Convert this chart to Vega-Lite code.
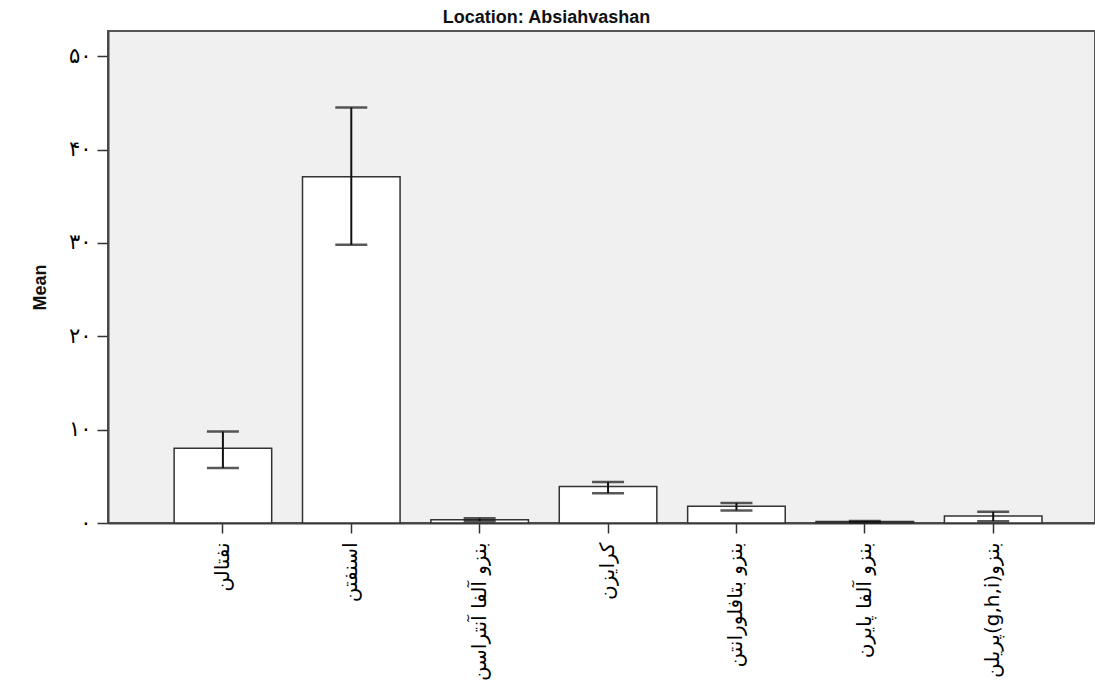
{
  "$schema": "https://vega.github.io/schema/vega-lite/v6.json",
  "autosize": {"type": "none"},
  "padding": {"left": 108, "top": 31, "right": 0, "bottom": 167},
  "width": 987,
  "height": 492,
  "background": "white",
  "title": {
    "text": "Location: Absiahvashan",
    "font": "Liberation Sans",
    "fontSize": 18,
    "fontWeight": "bold",
    "color": "#111",
    "anchor": "middle",
    "dx": -55,
    "offset": 4
  },
  "config": {
    "view": {"fill": "#f0f0f0", "stroke": "#555", "strokeWidth": 2}
  },
  "data": {
    "values": [
      {"name": "نفتالن", "mean": 8.0, "lo": 5.9, "hi": 9.8},
      {"name": "اسنفتن", "mean": 37.1, "lo": 29.8, "hi": 44.5},
      {"name": "بنزو آلفا آنتراسن", "mean": 0.35, "lo": 0.2, "hi": 0.5},
      {"name": "کرایزن", "mean": 3.9, "lo": 3.2, "hi": 4.4},
      {"name": "بنزو بتافلورانتن", "mean": 1.8, "lo": 1.35, "hi": 2.15},
      {"name": "بنزو آلفا پایرن", "mean": 0.15, "lo": 0.08, "hi": 0.22},
      {"name": "\u202bبنزو(g,h,i)پریلن\u202c", "mean": 0.75, "lo": 0.2, "hi": 1.2}
    ]
  },
  "encoding": {
    "x": {
      "field": "name",
      "type": "nominal",
      "sort": null,
      "scale": {"paddingInner": 0.24, "paddingOuter": 0.464, "align": 0.555},
      "axis": {
        "title": null,
        "labelAngle": -90,
        "labelFont": "DejaVu Sans",
        "labelFontSize": 20,
        "labelColor": "#000",
        "labelPadding": 9,
        "labelLimit": 250,
        "tickColor": "#333",
        "tickSize": 10,
        "tickWidth": 1.5,
        "domainColor": "#444",
        "domainWidth": 2
      }
    }
  },
  "layer": [
    {
      "mark": {"type": "bar", "fill": "white", "stroke": "#333", "strokeWidth": 1.5},
      "encoding": {
        "y": {
          "field": "mean",
          "type": "quantitative",
          "scale": {"domain": [0, 52.7], "nice": false},
          "axis": {
            "title": "Mean",
            "titleFont": "Liberation Sans",
            "titleFontSize": 18,
            "titleFontWeight": "bold",
            "titleColor": "#111",
            "titleX": -68,
            "titleY": 256,
            "titleAlign": "center",
            "titleBaseline": "middle",
            "values": [0, 10, 20, 30, 40, 50],
            "labelExpr": "datum.value == 0 ? '۰' : datum.value == 10 ? '۱۰' : datum.value == 20 ? '۲۰' : datum.value == 30 ? '۳۰' : datum.value == 40 ? '۴۰' : '۵۰'",
            "labelFont": "DejaVu Sans",
            "labelFontSize": 21,
            "labelColor": "#000",
            "labelPadding": 6,
            "tickSize": 11,
            "tickColor": "#333",
            "tickWidth": 1.5,
            "grid": false,
            "domainColor": "#444",
            "domainWidth": 2
          }
        }
      }
    },
    {
      "mark": {"type": "rule", "color": "#111", "strokeWidth": 2},
      "encoding": {
        "y": {"field": "lo", "type": "quantitative"},
        "y2": {"field": "hi"}
      }
    },
    {
      "mark": {"type": "tick", "orient": "horizontal", "color": "#111", "size": 32, "thickness": 2.5},
      "encoding": {"y": {"field": "lo", "type": "quantitative"}}
    },
    {
      "mark": {"type": "tick", "orient": "horizontal", "color": "#111", "size": 32, "thickness": 2.5},
      "encoding": {"y": {"field": "hi", "type": "quantitative"}}
    }
  ]
}
